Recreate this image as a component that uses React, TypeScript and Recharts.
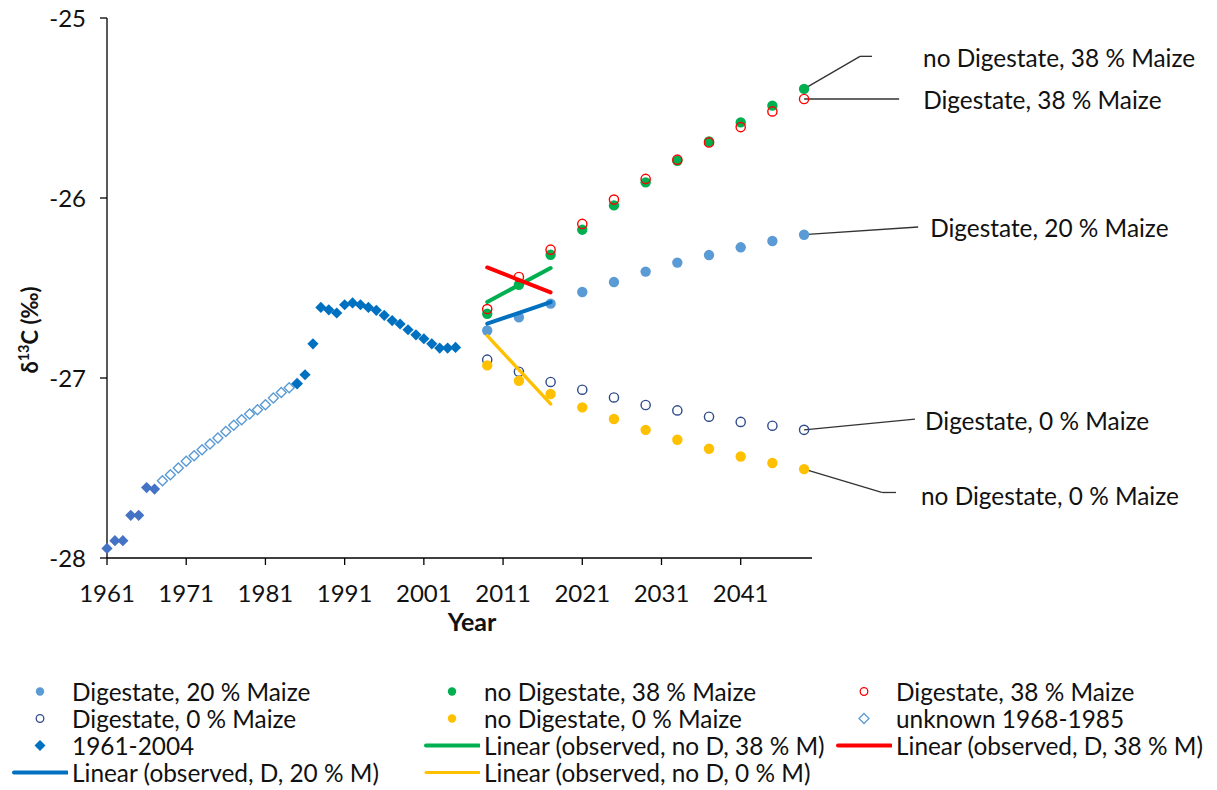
import React from 'react';
import { ScatterChart, Scatter, XAxis, YAxis, ReferenceLine, Legend } from 'recharts';

// ---------- data ----------
const futureYears = [2009, 2013, 2017, 2021, 2025, 2029, 2033, 2037, 2041, 2045, 2049];
const digestate20 = [-26.736, -26.663, -26.587, -26.522, -26.467, -26.409, -26.359, -26.317, -26.274, -26.239, -26.204];
const noDigestate38 = [-26.643, -26.482, -26.315, -26.176, -26.041, -25.913, -25.793, -25.686, -25.58, -25.487, -25.394];
const digestate38 = [-26.617, -26.439, -26.287, -26.144, -26.009, -25.894, -25.787, -25.691, -25.606, -25.519, -25.45];
const digestate0 = [-26.898, -26.965, -27.022, -27.065, -27.108, -27.15, -27.18, -27.215, -27.244, -27.265, -27.288];
const noDigestate0 = [-26.93, -27.015, -27.089, -27.163, -27.228, -27.288, -27.343, -27.393, -27.436, -27.472, -27.506];

const histYears = [1961, 1962, 1963, 1964, 1965, 1966, 1967, 1985, 1986, 1987, 1988, 1989, 1990, 1991, 1992, 1993, 1994, 1995, 1996, 1997, 1998, 1999, 2000, 2001, 2002, 2003, 2004, 2005];
const histValues = [-27.947, -27.904, -27.904, -27.763, -27.763, -27.609, -27.617, -27.032, -26.982, -26.81, -26.608, -26.621, -26.639, -26.593, -26.583, -26.593, -26.608, -26.624, -26.652, -26.681, -26.7, -26.732, -26.76, -26.782, -26.81, -26.834, -26.834, -26.83];

const unknownYears = [1968, 1969, 1970, 1971, 1972, 1973, 1974, 1975, 1976, 1977, 1978, 1979, 1980, 1981, 1982, 1983, 1984, 1985];
const unknownValues = [-27.571, -27.537, -27.5, -27.463, -27.432, -27.398, -27.367, -27.333, -27.297, -27.263, -27.232, -27.2, -27.176, -27.148, -27.111, -27.08, -27.054, -27.03];

const trendYears = [2009, 2017];
const trendNoD38 = [-26.578, -26.389];
const trendD38 = [-26.386, -26.524];
const trendD20 = [-26.698, -26.578];
const trendNoD0 = [-26.765, -27.144];

const xTicks = [1961, 1971, 1981, 1991, 2001, 2011, 2021, 2031, 2041];
const yTicks = [-28, -27, -26, -25];

const toRows = (years: number[], vals: number[]) => years.map((year, i) => ({ year, v: vals[i] }));

// ---------- styles ----------
const FONT = 'Lato, "Open Sans", sans-serif';
const TEXT = '#111111';
const LABEL_SIZE = 24.4;
const C = {
  d20: '#5B9BD5',
  nod38: '#00B050',
  d38: '#FF0000',
  d0: '#2F4B8C',
  nod0: '#FFC000',
  unknown: '#5B9BD5',
  hist: '#0070C0',
  histEarly: '#4472C4',
  tD20: '#0070C0',
};

const dotShape = (color: string, r: number) => (p: any) => <circle cx={p.cx} cy={p.cy} r={r} fill={color} />;
const ringShape = (color: string, r: number) => (p: any) => (
  <circle cx={p.cx} cy={p.cy} r={r} fill="none" stroke={color} strokeWidth={1.4} />
);
const diamondPath = (cx: number, cy: number, h: number) => `M${cx},${cy - h}L${cx + h},${cy}L${cx},${cy + h}L${cx - h},${cy}Z`;
const histShape = (p: any) => (
  <path d={diamondPath(p.cx, p.cy, 5.6)} fill={p.payload && p.payload.year < 1968 ? C.histEarly : C.hist} />
);
const hollowDiamondShape = (p: any) => (
  <path d={diamondPath(p.cx, p.cy, 5)} fill="none" stroke={C.unknown} strokeWidth={1.4} />
);
const noShape = () => <g />;

type LegendKind = 'dot' | 'ring' | 'diamond' | 'hdiamond' | 'line';
const legendItems: { name: string; kind: LegendKind; color: string; w?: number }[] = [
  { name: 'Digestate, 20 % Maize', kind: 'dot', color: C.d20 },
  { name: 'no Digestate, 38 % Maize', kind: 'dot', color: C.nod38 },
  { name: 'Digestate, 38 % Maize', kind: 'ring', color: C.d38 },
  { name: 'Digestate, 0 % Maize', kind: 'ring', color: C.d0 },
  { name: 'no Digestate, 0 % Maize', kind: 'dot', color: C.nod0 },
  { name: 'unknown 1968-1985', kind: 'hdiamond', color: C.unknown },
  { name: '1961-2004', kind: 'diamond', color: C.hist },
  { name: 'Linear (observed, no D, 38 % M)', kind: 'line', color: C.nod38, w: 4 },
  { name: 'Linear (observed, D, 38 % M)', kind: 'line', color: C.d38, w: 4 },
  { name: 'Linear (observed, D, 20 % M)', kind: 'line', color: C.tD20, w: 4 },
  { name: 'Linear (observed, no D, 0 % M)', kind: 'line', color: C.nod0, w: 3 },
];

const LegendIcon = ({ kind, color, w }: { kind: LegendKind; color: string; w?: number }) => {
  const cx = 32;
  const cy = 13.5;
  return (
    <svg width={60} height={27} style={{ flex: '0 0 60px' }}>
      {kind === 'dot' && <circle cx={cx} cy={cy} r={4.2} fill={color} />}
      {kind === 'ring' && <circle cx={cx} cy={cy} r={3.8} fill="none" stroke={color} strokeWidth={1.3} />}
      {kind === 'diamond' && <path d={diamondPath(cx, cy, 5.5)} fill={color} />}
      {kind === 'hdiamond' && <path d={diamondPath(cx, cy, 5)} fill="none" stroke={color} strokeWidth={1.3} />}
      {kind === 'line' && <line x1={6} x2={59} y1={cy} y2={cy} stroke={color} strokeWidth={w || 4} strokeLinecap="round" />}
    </svg>
  );
};

const CustomLegend = () => (
  <div
    style={{
      display: 'grid',
      gridTemplateColumns: '412px 412px 385px',
      gridAutoRows: '27px',
      fontFamily: FONT,
      fontSize: LABEL_SIZE,
      color: TEXT,
    }}
  >
    {legendItems.map((it) => (
      <div key={it.name} style={{ display: 'flex', alignItems: 'center', whiteSpace: 'nowrap', height: 27 }}>
        <LegendIcon kind={it.kind} color={it.color} w={it.w} />
        <span style={{ marginLeft: 4, lineHeight: '27px' }}>{it.name}</span>
      </div>
    ))}
  </div>
);

// ---------- annotations (callouts) ----------
const lastIdx = futureYears.length - 1;
const annotations = [
  {
    text: 'no Digestate, 38 % Maize',
    path: [[futureYears[lastIdx], noDigestate38[lastIdx]], [2056.06, -25.213], [2057.58, -25.213]],
    dx: 51,
    dy: 2,
  },
  {
    text: 'Digestate, 38 % Maize',
    path: [[futureYears[lastIdx], digestate38[lastIdx]], [2061.0, -25.45]],
    dx: 24,
    dy: 1.5,
  },
  {
    text: 'Digestate, 20 % Maize',
    path: [[futureYears[lastIdx], digestate20[lastIdx]], [2063.4, -26.161]],
    dx: 12,
    dy: 1,
  },
  {
    text: 'Digestate, 0 % Maize',
    path: [[futureYears[lastIdx], digestate0[lastIdx]], [2063.0, -27.228]],
    dx: 10,
    dy: 2.5,
  },
  {
    text: 'no Digestate, 0 % Maize',
    path: [[futureYears[lastIdx], noDigestate0[lastIdx]], [2058.8, -27.636], [2060.6, -27.636]],
    dx: 25,
    dy: 4,
  },
];

const AnnotLabel = (props: any) => {
  const vb = props.viewBox || {};
  const x = (vb.x || 0) + (vb.width || 0) + props.dx;
  const y = (vb.y || 0) + props.dy;
  return (
    <text x={x} y={y} dy="0.36em" fontSize={LABEL_SIZE} fontFamily={FONT} fill={TEXT} textAnchor="start">
      {props.text}
    </text>
  );
};

const YLabel = (props: any) => {
  const vb = props.viewBox || { x: 0, y: 0, width: 0, height: 0 };
  const cx = vb.x + 30;
  const cy = vb.y + vb.height / 2 + 42;
  return (
    <text
      transform={`translate(${cx}, ${cy}) rotate(-90)`}
      textAnchor="middle"
      dy="0.36em"
      fontSize={22}
      fontWeight={700}
      fontFamily={FONT}
      fill={TEXT}
    >
      δ<tspan fontSize={14.5} dy={-8.5}>13</tspan>
      <tspan dy={8.5}>C (‰)</tspan>
    </text>
  );
};

const XLabel = (props: any) => {
  const vb = props.viewBox || { x: 0, y: 0, width: 0, height: 0 };
  return (
    <text
      x={vb.x + vb.width / 2 + 12.5}
      y={vb.y + 64}
      dy="0.36em"
      textAnchor="middle"
      fontSize={25}
      fontWeight={700}
      fontFamily={FONT}
      fill={TEXT}
    >
      Year
    </text>
  );
};

export default function App() {
  const tickStyle = { fontSize: 24, fill: TEXT, fontFamily: FONT };
  return (
    <div style={{ width: 1217, height: 790, margin: '-8px 0 0 -8px', fontFamily: FONT }}>
      <ScatterChart width={1217} height={790} margin={{ top: 18, right: 405, bottom: 172, left: 0 }}>
        <XAxis
          type="number"
          dataKey="year"
          domain={[1961, 2050]}
          ticks={xTicks}
          interval={0}
          tickSize={7}
          tickMargin={20}
          tick={tickStyle}
          height={60}
          axisLine={{ stroke: '#000', strokeWidth: 1.3 }}
          tickLine={{ stroke: '#000', strokeWidth: 1.3 }}
          label={<XLabel />}
        />
        <YAxis
          type="number"
          dataKey="v"
          domain={[-28, -25]}
          ticks={yTicks}
          interval={0}
          width={107}
          tickSize={7}
          tickMargin={14}
          tick={tickStyle}
          axisLine={{ stroke: '#000', strokeWidth: 1.3 }}
          tickLine={{ stroke: '#000', strokeWidth: 1.3 }}
          label={<YLabel />}
        />
        <Legend
          layout="horizontal"
          verticalAlign="middle"
          align="center"
          wrapperStyle={{ left: 8, top: 677.5, width: 1209, height: 108 }}
          content={<CustomLegend />}
        />

        <Scatter name="unknown 1968-1985" data={toRows(unknownYears, unknownValues)} shape={hollowDiamondShape} isAnimationActive={false} />
        <Scatter name="1961-2004" data={toRows(histYears, histValues)} shape={histShape} isAnimationActive={false} />
        <Scatter name="Digestate, 0 % Maize" data={toRows(futureYears, digestate0)} shape={ringShape(C.d0, 4.6)} isAnimationActive={false} />
        <Scatter name="no Digestate, 0 % Maize" data={toRows(futureYears, noDigestate0)} shape={dotShape(C.nod0, 5.2)} isAnimationActive={false} />
        <Scatter name="Digestate, 20 % Maize" data={toRows(futureYears, digestate20)} shape={dotShape(C.d20, 5.2)} isAnimationActive={false} />
        <Scatter name="no Digestate, 38 % Maize" data={toRows(futureYears, noDigestate38)} shape={dotShape(C.nod38, 5.2)} isAnimationActive={false} />
        <Scatter name="Digestate, 38 % Maize" data={toRows(futureYears, digestate38)} shape={ringShape(C.d38, 4.6)} isAnimationActive={false} />

        <Scatter name="Linear (observed, no D, 38 % M)" data={toRows(trendYears, trendNoD38)} shape={noShape} line={{ stroke: C.nod38, strokeWidth: 4, strokeLinecap: 'round' }} isAnimationActive={false} />
        <Scatter name="Linear (observed, D, 38 % M)" data={toRows(trendYears, trendD38)} shape={noShape} line={{ stroke: C.d38, strokeWidth: 4, strokeLinecap: 'round' }} isAnimationActive={false} />
        <Scatter name="Linear (observed, D, 20 % M)" data={toRows(trendYears, trendD20)} shape={noShape} line={{ stroke: C.tD20, strokeWidth: 4, strokeLinecap: 'round' }} isAnimationActive={false} />
        <Scatter name="Linear (observed, no D, 0 % M)" data={toRows(trendYears, trendNoD0)} shape={noShape} line={{ stroke: C.nod0, strokeWidth: 3.4, strokeLinecap: 'round' }} isAnimationActive={false} />

        {annotations.map((a, ai) =>
          a.path.slice(1).map((pt, si) => {
            const prev = a.path[si];
            const isLast = si === a.path.length - 2;
            return (
              <ReferenceLine
                key={`ann-${ai}-${si}`}
                segment={[
                  { x: prev[0], y: prev[1] },
                  { x: pt[0], y: pt[1] },
                ]}
                stroke="#333"
                strokeWidth={1.3}
                ifOverflow="visible"
                label={isLast ? <AnnotLabel text={a.text} dx={a.dx} dy={a.dy} /> : undefined}
              />
            );
          })
        )}
      </ScatterChart>
    </div>
  );
}
